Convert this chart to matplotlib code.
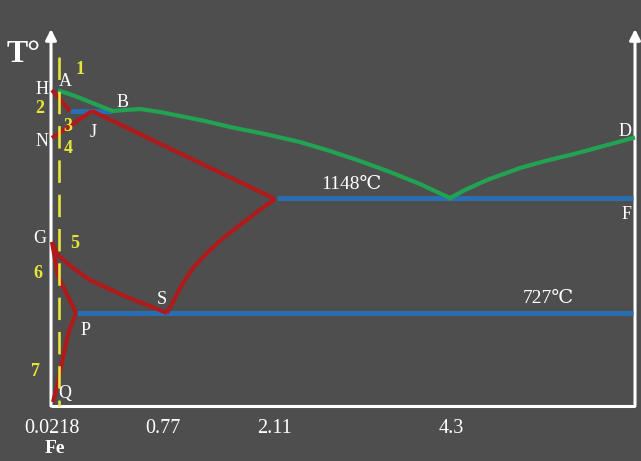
import matplotlib
matplotlib.use("Agg")
import matplotlib.pyplot as plt

# ---- schematic Fe-C diagram data (diagram units: x to the right, y downward) ----
# liquidus A-B-C and C-D (green)
liq_x = [60, 75, 90, 105, 113, 125, 140, 160, 180, 205, 230, 265, 300, 330, 360, 390, 420, 450]
liq_y = [91, 96, 102, 108, 111, 110, 109, 112, 116, 121, 127, 134, 142, 151, 161, 172, 184, 198]
liq2_x = [450, 465, 487, 520, 545, 570, 600, 633]
liq2_y = [198, 190, 180, 168, 161, 155, 147, 138]

# red boundaries
h_x, h_y = [52, 70], [90, 111]                  # H line
nj_x, nj_y = [52, 92], [138, 111]               # N - J
je_x, je_y = [92, 275], [111, 199]              # J - E
es_x = [275, 257, 240, 223, 207, 193, 183, 175, 167]   # E - S
es_y = [199, 212, 225, 238, 253, 268, 283, 298, 313]
gs_x = [52, 58, 73, 90, 107, 127, 147, 167]     # G - S
gs_y = [242, 255, 268, 280, 288, 297, 305, 313]
gp_x = [52, 58, 76]                             # G - P
gp_y = [242, 276, 313]
pq_x = [76, 70, 66, 63, 60, 57, 53]             # P - Q
pq_y = [313, 328, 343, 358, 372, 387, 402]

# blue isotherms
hjb_x, hjb_y = [70, 112], [111, 111]
ecf_x, ecf_y = [277, 633], [198, 198]
psk_x, psk_y = [77, 633], [313, 313]

# tick labels on composition axis
tick_pos = [52, 163, 275, 451]
tick_lab = ["0.0218", "0.77", "2.11", "4.3"]

# point labels
pt_lab = ["H", "A", "B", "J", "N", "G", "S", "P", "Q", "D", "F"]
pt_x = [42, 65, 123, 93, 42, 40, 162, 86, 65, 625, 627]
pt_y = [89, 81, 102, 132, 141, 238, 299, 330, 393, 131, 214]

# yellow region numbers
num_lab = ["1", "2", "3", "4", "5", "6", "7"]
num_x = [80, 40, 68, 68, 75, 38, 36]
num_y = [70, 108, 126, 148, 243, 273, 371]

# isotherm labels
iso_lab = ["1148\u2103", "727\u2103"]
iso_x = [351, 548]
iso_y = [184, 298]

BG = "#4e4e4e"
GREEN = "#22a352"
RED = "#b01a1a"
BLUE = "#2a6db0"
YEL = "#e6e63a"
SERIF = ["Liberation Serif", "DejaVu Serif"]

fig = plt.figure(figsize=(6.41, 4.61), dpi=100, facecolor=BG)
ax = fig.add_axes([0, 0, 1, 1])
ax.set_facecolor(BG)
ax.set_xlim(0, 641)
ax.set_ylim(461, 0)
ax.axis("off")

# axes (white)
ax.plot([51, 635], [406, 406], color="white", lw=2.2, solid_capstyle="butt", zorder=2)
for xa in (51, 635):
    ax.annotate("", xy=(xa, 29), xytext=(xa, 406),
                arrowprops=dict(arrowstyle="-|>", color="white", lw=2.2,
                                mutation_scale=16, shrinkA=0, shrinkB=0), zorder=2)

# yellow dashed line
yl, = ax.plot([59, 59], [57, 406], color=YEL, lw=1.9, zorder=6)
yl.set_dashes([8.5, 4.5])

# blue lines
for xs, ys in [(hjb_x, hjb_y), (ecf_x, ecf_y), (psk_x, psk_y)]:
    ax.plot(xs, ys, color=BLUE, lw=3.6, solid_capstyle="butt", zorder=3)

# red lines
for xs, ys in [(h_x, h_y), (nj_x, nj_y), (je_x, je_y), (es_x, es_y),
               (gs_x, gs_y), (gp_x, gp_y), (pq_x, pq_y)]:
    ax.plot(xs, ys, color=RED, lw=3.0, solid_joinstyle="round",
            solid_capstyle="butt", zorder=4)

# green liquidus
ax.plot(liq_x, liq_y, color=GREEN, lw=3.0, solid_joinstyle="round", zorder=5)
ax.plot(liq2_x, liq2_y, color=GREEN, lw=3.0, solid_joinstyle="round", zorder=5)

# texts
ax.text(24, 55, "T\u00b0", color="white", fontsize=23, fontweight="bold",
        family=SERIF, ha="center", va="center")
for s, x, y in zip(pt_lab, pt_x, pt_y):
    ax.text(x, y, s, color="white", fontsize=13, family=SERIF,
            ha="center", va="center", zorder=7)
for s, x, y in zip(num_lab, num_x, num_y):
    ax.text(x, y, s, color=YEL, fontsize=13, fontweight="bold", family=SERIF,
            ha="center", va="center", zorder=7)
for s, x, y in zip(iso_lab, iso_x, iso_y):
    ax.text(x, y, s, color="white", fontsize=14, family=SERIF,
            ha="center", va="center", zorder=7)
for s, x in zip(tick_lab, tick_pos):
    ax.text(x, 428, s, color="white", fontsize=14.5, family=SERIF,
            ha="center", va="center")
ax.text(55, 448, "Fe", color="white", fontsize=14, fontweight="bold",
        family=SERIF, ha="center", va="center")

fig.savefig("out.png", dpi=100, facecolor=BG)
